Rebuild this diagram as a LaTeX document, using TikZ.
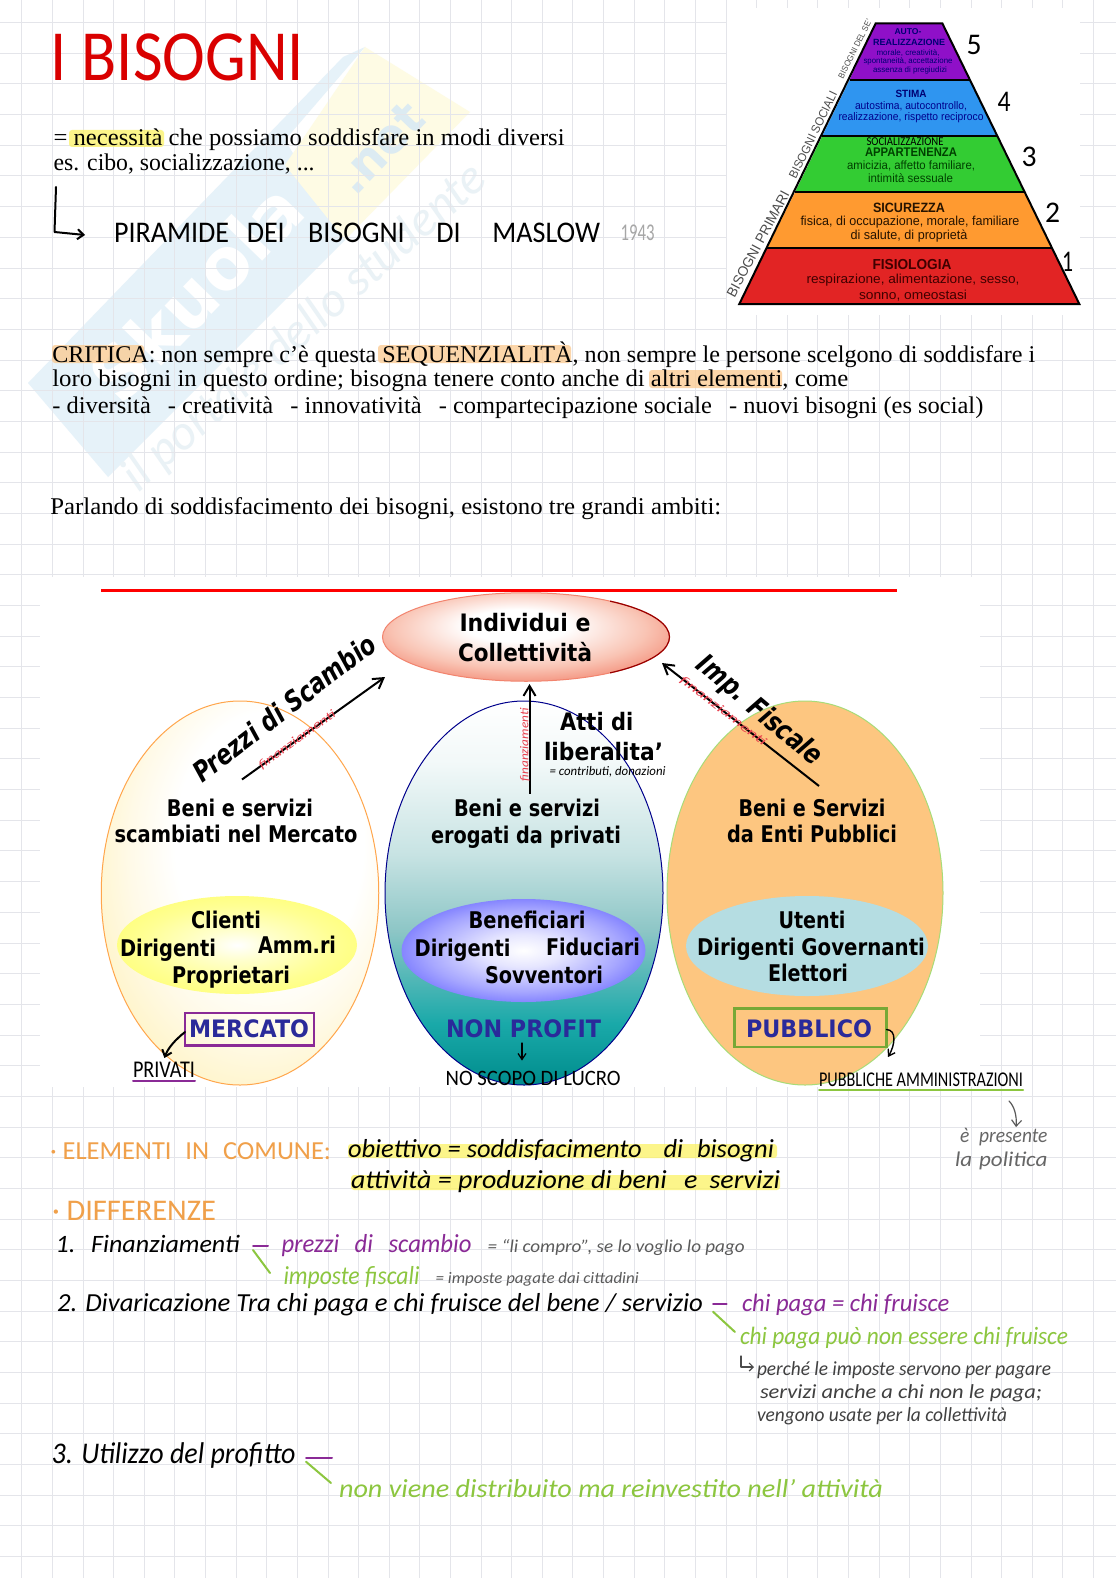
\documentclass[tikz,border=0pt]{standalone}
\usepackage{graphicx}
\usepackage{fontspec}
\usetikzlibrary{shapes.geometric,arrows.meta}
\setmainfont{Liberation Serif}
\newfontfamily\handf{Carlito}
\newfontfamily\arialf{Liberation Sans}
\newfontfamily\tahf{DejaVu Sans}
\newlength\pxu \setlength\pxu{0.5pt}
\newcommand\fx[3]{\resizebox{#1\pxu}{\height}{\fontsize{#2\pxu}{#2\pxu}\selectfont #3}}
\definecolor{gridc}{HTML}{E4E5EA}
\definecolor{wblue}{HTML}{E6F2F9}
\definecolor{wyel}{HTML}{FEFBE4}
\definecolor{wnet}{HTML}{DCEBF2}
\definecolor{wgrey}{HTML}{EAF2F6}
\definecolor{hlyel}{HTML}{FBF263}
\definecolor{hlor}{HTML}{FBC98E}
\definecolor{pred}{HTML}{E22424}
\definecolor{pora}{HTML}{FF9A30}
\definecolor{pgre}{HTML}{33CC33}
\definecolor{pblu}{HTML}{2F95F0}
\definecolor{ppur}{HTML}{8F10C8}
\definecolor{horange}{HTML}{F0A04A}
\definecolor{hpurple}{HTML}{8A2A96}
\definecolor{hgreen}{HTML}{8CC63F}
\definecolor{hgrey}{HTML}{5A5A5A}
\definecolor{lnavy}{HTML}{2A2A9A}
\definecolor{ored}{HTML}{E8404E}
\definecolor{ga}{HTML}{FFFAE8}
\definecolor{gb}{HTML}{FFF3C0}
\definecolor{gc}{HTML}{FFE898}
\definecolor{gd}{HTML}{FFD050}
\definecolor{ge}{HTML}{FFC030}
\definecolor{salma}{HTML}{F9C4B4}
\definecolor{salmb}{HTML}{F2846E}
\definecolor{salmc}{HTML}{EE7058}
\definecolor{rfill}{HTML}{FDC680}
\definecolor{rbord}{HTML}{A8DC78}
\definecolor{rinner}{HTML}{B5DDE2}
\pgfdeclareradialshading{leftshade}{\pgfpoint{8bp}{10bp}}{color(0bp)=(white);color(17bp)=(white);color(24bp)=(ga);color(33bp)=(gb);color(36bp)=(gc);color(40bp)=(gd);color(50bp)=(ge)}
\pgfdeclareverticalshading{midshade}{100bp}{color(0bp)=(teal!90!cyan);color(25bp)=(teal!90!cyan);color(33bp)=(teal!75!cyan!90!white);color(45bp)=(teal!45!white);color(55bp)=(teal!22!white);color(67bp)=(teal!5!white);color(75bp)=(white);color(100bp)=(white)}
\pgfdeclareradialshading{topshade}{\pgfpoint{-2bp}{8bp}}{color(0bp)=(white);color(9bp)=(white);color(22bp)=(salma);color(32bp)=(salmb);color(50bp)=(salmc)}
\pgfdeclareradialshading{yelshade}{\pgfpoint{0bp}{0bp}}{color(0bp)=(white);color(8bp)=(yellow!20!white);color(20bp)=(yellow!42!white);color(30bp)=(yellow!55!white);color(50bp)=(yellow!60!white)}
\pgfdeclareradialshading{vioshade}{\pgfpoint{0bp}{0bp}}{color(0bp)=(white);color(8bp)=(blue!10!white);color(20bp)=(blue!35!white);color(28bp)=(blue!55!white);color(50bp)=(blue!60!white)}
\tikzset{
  tx/.style={inner sep=0,outer sep=0,anchor=center},
  txw/.style={inner sep=0,outer sep=0,anchor=west},
  body/.style={txw,text=black},
  pyr/.style={tx,font=\arialf},
  pyrb/.style={tx,font=\arialf\bfseries},
  side/.style={tx,font=\arialf,text=black!70},
  dg/.style={tx,font=\tahf\bfseries,text=black},
  lab/.style={tx,font=\tahf\bfseries,text=lnavy},
  hand/.style={txw,font=\handf\itshape,text=black},
  handup/.style={txw,font=\handf,text=black},
  flow/.style={draw=black,line width=2pt*0.5,-{Straight Barb[length=5pt,width=6pt]}},
  pen/.style={line width=1pt,line cap=round,line join=round},
  band/.style={draw=black,line width=1pt},
  hl/.style={fill=#1,opacity=.75,rounded corners=1.5pt,draw=none},
  ell/.style={ellipse,inner sep=0,outer sep=0,line width=0.5pt},
}
\begin{document}
\begin{tikzpicture}[x=0.5pt,y=-0.5pt]
\useasboundingbox (0,0) rectangle (1116,1578);
\fill[white] (0,0) rectangle (1116,1578);
% watermark
\fill[wblue] (28,383) -- (343,57) -- (365,47) -- (285,140) -- (345,240) -- (108,477) -- cycle;
\fill[wyel] (365,47) -- (470,112) -- (345,240) -- (285,165) -- cycle;
\node[tx,rotate=46,font=\tahf\bfseries,text=white] (wmA) at (196,292) {\fx{270}{72}{Skuola}};
\node[tx,rotate=46,font=\tahf\bfseries,text=wnet] (wmB) at (380,148) {\fx{105}{48}{.net}};
\node[tx,rotate=41.5,font=\handf\itshape,text=wgrey] (wmC) at (305,328) {\fx{468}{50}{il portale dello studente}};
% grid
\foreach \k in {0,...,35} {\draw[gridc,line width=0.5pt] ({21.8+30.62*\k},0) -- ({21.8+30.62*\k},1578);}
\foreach \k in {0,...,51} {\draw[gridc,line width=0.5pt] (0,{22.6+30.68*\k}) -- (1116,{22.6+30.68*\k});}
% image patches
\fill[white] (727,8) rectangle (1080,315);
\fill[white] (40,577) rectangle (980,1087);
% title
\node[handup,text=red!85!black] (title) at (51,57) {\fx{253}{72}{I BISOGNI}};
% highlights
\fill[hl=hlyel] (69,130) rectangle (164,147);
\fill[hl=hlor] (52,345) rectangle (144,363);
\fill[hl=hlor] (378,345) rectangle (571,363);
\fill[hl=hlor] (649,370) rectangle (782,388);
\fill[hl=hlyel] (348,1144) rectangle (777,1158);
\fill[hl=hlyel] (351,1175) rectangle (780,1190);
% body text
\node[body] (t1) at (53.6,140) {\fx{511}{24}{= necessità che possiamo soddisfare in modi diversi}};
\node[body] (t2) at (53.6,164) {\fx{261}{24}{es. cibo, socializzazione, ...}};
\node[body] (t3) at (52.3,354.5) {\fx{983}{24}{CRITICA: non sempre c’è questa SEQUENZIALITÀ, non sempre le persone scelgono di soddisfare i}};
\node[body] (t4) at (52.3,381) {\fx{796}{24}{loro bisogni in questo ordine; bisogna tenere conto anche di altri elementi, come}};
\node[body] (t5) at (52.3,408) {\fx{931}{24}{- diversità\hspace{0.7em}- creatività\hspace{0.7em}- innovatività\hspace{0.7em}- compartecipazione sociale\hspace{0.7em}- nuovi bisogni (es social)}};
\node[body] (t6) at (50.3,509) {\fx{671}{24}{Parlando di soddisfacimento dei bisogni, esistono tre grandi ambiti:}};
% L arrow and Maslow
\coordinate (la) at (56,187);
\coordinate (lb) at (54.5,232);
\coordinate (lc) at (85,235);
\draw[pen,black,-{Straight Barb[length=3pt,width=5pt]}] (la) -- (lb) -- (lc);
\node[handup] (pm) at (114,233) {\fx{486}{30}{PIRAMIDE\hspace{0.4em} DEI\hspace{0.6em} BISOGNI\hspace{0.9em} DI\hspace{0.9em} MASLOW}};
\node[handup,text=black!35] (yr) at (620.5,233) {\fx{34}{24}{1943}};
% pyramid
\fill[pred] (767.3,248) -- (1051.3,248) -- (1079.3,304) -- (739.3,304) -- cycle;
\fill[pora] (795.0,192.3) -- (1024,192.3) -- (1051.3,248) -- (767.3,248) -- cycle;
\fill[pgre] (822.3,136) -- (996.5,136) -- (1024,192.3) -- (795.0,192.3) -- cycle;
\fill[pblu] (849.5,80) -- (969.5,80) -- (996.5,136) -- (822.3,136) -- cycle;
\fill[ppur] (875.7,23.3) -- (942.3,23.3) -- (969.5,80) -- (849.5,80) -- cycle;
\draw[band] (875.7,23.3) -- (942.3,23.3) -- (1079.3,304) -- (739.3,304) -- cycle;
\draw[band] (849.5,80) -- (969.5,80);
\draw[band] (822.3,136) -- (996.5,136);
\draw[band] (795,192.3) -- (1024,192.3);
\draw[band] (767.3,248) -- (1051.3,248);
\node[pyrb,text=black!75!red] (p1a) at (912,264.5) {\fx{79}{14.5}{FISIOLOGIA}};
\node[pyr,text=black!75!red] (p1b) at (913,280) {\fx{213}{13}{respirazione, alimentazione, sesso,}};
\node[pyr,text=black!75!red] (p1c) at (913,295.5) {\fx{108}{13}{sonno, omeostasi}};
\node[pyrb,text=black!85!orange] (p2a) at (909,207.7) {\fx{72}{13.5}{SICUREZZA}};
\node[pyr,text=black!85!orange] (p2b) at (910,222) {\fx{219}{13}{fisica, di occupazione, morale, familiare}};
\node[pyr,text=black!85!orange] (p2c) at (909,236.5) {\fx{117}{13}{di salute, di proprietà}};
\node[handup,tx] (p3z) at (905,141.7) {\fx{77}{12}{SOCIALIZZAZIONE}};
\node[pyrb,text=black!75!green] (p3a) at (911,152.2) {\fx{92}{12.5}{APPARTENENZA}};
\node[pyr,text=black!75!green] (p3b) at (911,165.5) {\fx{128}{12}{amicizia, affetto familiare,}};
\node[pyr,text=black!75!green] (p3c) at (910.5,178) {\fx{85}{12}{intimità sessuale}};
\node[pyrb,text=blue!45!black] (p4a) at (911,94) {\fx{31}{10.5}{STIMA}};
\node[pyr,text=blue!55!black] (p4b) at (911,106) {\fx{112}{11}{autostima, autocontrollo,}};
\node[pyr,text=blue!55!black] (p4c) at (911,117.5) {\fx{145}{11}{realizzazione, rispetto reciproco}};
\node[pyrb,text=blue!45!black] (p5a) at (908,32) {\fx{27}{8.5}{AUTO-}};
\node[pyrb,text=blue!45!black] (p5b) at (909,42.3) {\fx{72}{9}{REALIZZAZIONE}};
\node[pyr,text=blue!45!black] (p5c) at (908,52.7) {\fx{63}{8}{morale, creatività,}};
\node[pyr,text=blue!45!black] (p5d) at (908,61.7) {\fx{89}{8}{spontaneità, accettazione}};
\node[pyr,text=blue!45!black] (p5e) at (910,70.7) {\fx{74}{8}{assenza di pregiudizi}};
\node[side,rotate=62] (s1) at (758,244) {\fx{118}{14}{BISOGNI PRIMARI}};
\node[side,rotate=64] (s2) at (813,135) {\fx{95}{12}{BISOGNI SOCIALI}};
\node[side,rotate=63.5] (s3) at (855,49) {\fx{65}{8.5}{BISOGNI DEL SE’}};
\node[handup,tx] (n5) at (974,45) {\fx{15}{30}{5}};
\node[handup,tx] (n4) at (1004,101.7) {\fx{13}{30}{4}};
\node[handup,tx] (n3) at (1029,156.7) {\fx{15}{30}{3}};
\node[handup,tx] (n2) at (1052.7,213) {\fx{15}{30}{2}};
\node[handup,tx] (n1) at (1067.7,261.7) {\fx{11}{30}{1}};
% diagram
\coordinate (rla) at (101,590.5);
\coordinate (rlb) at (897,590.5);
\draw[red,line width=1.6pt] (rla) -- (rlb);
\node[ell,draw=orange!70!white,shading=leftshade,minimum width=277.5\pxu,minimum height=384\pxu] (eL) at (240,893) {};
\node[ell,draw=blue!55!black,shading=midshade,minimum width=278\pxu,minimum height=384\pxu] (eM) at (524,893) {};
\node[ell,draw=rbord,fill=rfill,minimum width=276\pxu,minimum height=384\pxu] (eR) at (805,893) {};
\node[ell,draw=salmb,shading=topshade,minimum width=287\pxu,minimum height=88.5\pxu] (eT) at (526,637) {};
\begin{scope}
\clip (610,590) rectangle (680,690);
\draw[red!60!black,line width=0.6pt] (eT.center) ellipse [x radius=143.5,y radius=44.25];
\end{scope}
\node[ell,shading=yelshade,minimum width=240\pxu,minimum height=98\pxu] (iL) at (237,945) {};
\node[ell,shading=vioshade,minimum width=244\pxu,minimum height=103\pxu] (iM) at (523.5,950.5) {};
\node[ell,fill=rinner,minimum width=242\pxu,minimum height=100\pxu] (iR) at (807,946) {};
% arrows
\coordinate (a1a) at (242,779.5);
\coordinate (a1b) at (385,677);
\coordinate (a2a) at (529.5,793.6);
\coordinate (a2b) at (529.5,684);
\coordinate (a3a) at (819,786);
\coordinate (a3b) at (662,663);
\draw[flow] (a1a) -- (a1b);
\draw[flow] (a2a) -- (a2b);
\draw[flow] (a3a) -- (a3b);
% diagram text
\node[dg] (d1) at (525,623) {\fx{131}{24}{Individui e}};
\node[dg] (d2) at (525,652) {\fx{134}{24}{Collettività}};
\node[dg,rotate=37.5] (d3) at (284,708) {\fx{222}{28}{\itshape Prezzi di Scambio}};
\node[dg,rotate=-40] (d4) at (759,711) {\fx{155}{28}{\itshape Imp. Fiscale}};
\node[dg] (d5) at (596.7,722) {\fx{73}{24}{Atti di}};
\node[dg] (d6) at (603.5,752) {\fx{119}{24}{liberalita’}};
\node[dg] (b1) at (240,808) {\fx{146}{23}{Beni e servizi}};
\node[dg] (b2) at (236,834) {\fx{243}{23}{scambiati nel Mercato}};
\node[dg] (b3) at (527,808) {\fx{146}{23}{Beni e servizi}};
\node[dg] (b4) at (526,837) {\fx{190}{23}{erogati da privati}};
\node[dg] (b5) at (812,808) {\fx{147}{23}{Beni e Servizi}};
\node[dg] (b6) at (812,834) {\fx{170}{23}{da Enti Pubblici}};
\node[dg] (c1) at (226,920) {\fx{70}{23}{Clienti}};
\node[dg] (c2) at (168,950) {\fx{96}{23}{Dirigenti}};
\node[dg] (c3) at (297,945) {\fx{78}{23}{Amm.ri}};
\node[dg] (c4) at (231,977) {\fx{118}{23}{Proprietari}};
\node[dg] (c5) at (527,920) {\fx{117}{23}{Beneficiari}};
\node[dg] (c6) at (462.6,950) {\fx{96}{23}{Dirigenti}};
\node[dg] (c7) at (593,947) {\fx{94}{23}{Fiduciari}};
\node[dg] (c8) at (544,975) {\fx{118}{23}{Sovventori}};
\node[dg] (c9) at (812,920) {\fx{67}{23}{Utenti}};
\node[dg] (c10) at (811,949) {\fx{228}{23}{Dirigenti Governanti}};
\node[dg] (c11) at (808,973) {\fx{80}{23}{Elettori}};
\node[lab] (m1) at (249,1029) {\fx{120}{24}{MERCATO}};
\node[lab] (m2) at (523.5,1029) {\fx{155}{24}{NON PROFIT}};
\node[lab] (m3) at (809,1029) {\fx{126}{24}{PUBBLICO}};
% boxes
\draw[hpurple,line width=1.2pt] (185,1013) rectangle (314,1045.5);
\draw[hgreen!85!black,line width=1.1pt] (734.5,1008.5) rectangle (886.5,1047);
% red notes
\node[tx,font=\handf\itshape,text=ored,rotate=36] (f1) at (297,740) {\fx{92}{12}{finanziamenti}};
\node[tx,font=\handf\itshape,text=ored,rotate=90] (f2) at (525,745) {\fx{73}{12}{finanziamenti}};
\node[tx,font=\handf\itshape,text=ored,rotate=-38] (f3) at (723,711) {\fx{106}{12}{finanziamenti}};
\node[hand] (f4) at (549.6,772) {\fx{116}{13}{= contributi, donazioni}};
% notes around the ellipses
\node[handup] (h1) at (133,1070) {\fx{62}{24}{PRIVATI}};
\coordinate (h1a) at (133,1081);
\coordinate (h1b) at (195,1081);
\draw[hpurple,pen] (h1a) -- (h1b);
\coordinate (h2a) at (185,1032);
\coordinate (h2b) at (164.4,1058);
\draw[pen,black,-{Straight Barb[length=3pt,width=5pt]}] (h2a) .. controls (175,1040) and (168,1048) .. (h2b);
\node[handup] (h3) at (445.7,1078) {\fx{175}{22}{NO SCOPO DI LUCRO}};
\coordinate (h4a) at (522,1043);
\coordinate (h4b) at (522,1060.5);
\draw[pen,black,line width=0.6pt,-{Straight Barb[length=3pt,width=4pt]}] (h4a) -- (h4b);
\coordinate (h5a) at (886.5,1029.5);
\coordinate (h5b) at (888,1057);
\draw[pen,black,line width=0.7pt,-{Straight Barb[length=3pt,width=4pt]}] (h5a) .. controls (897,1030) and (895,1045) .. (h5b);
\node[handup] (h6) at (819,1080) {\fx{204}{21}{PUBBLICHE AMMINISTRAZIONI}};
\coordinate (h6a) at (819,1090);
\coordinate (h6b) at (1023,1090);
\draw[hgreen,pen] (h6a) -- (h6b);
\coordinate (h7a) at (1009,1101);
\coordinate (h7b) at (1016,1127);
\draw[pen,line width=0.6pt,black!65,-{Straight Barb[length=3pt,width=5pt]}] (h7a) .. controls (1014,1106) and (1017,1115) .. (h7b);
\node[hand,text=black!60] (h8) at (960,1137) {\fx{87.5}{21}{è\hspace{.5em}presente}};
\node[hand,text=black!60] (h9) at (955,1161) {\fx{92.5}{21}{la\hspace{.3em}politica}};
% lower notes
\node[handup,text=horange] (e1) at (50,1151) {\fx{281}{26}{· ELEMENTI\hspace{.3em} IN\hspace{.3em} COMUNE:}};
\node[hand] (e2) at (348,1151) {\fx{426}{26}{obiettivo = soddisfacimento\hspace{.6em} di\hspace{.3em} bisogni}};
\node[hand] (e3) at (351,1182) {\fx{429}{26}{attività = produzione di beni\hspace{.4em} e\hspace{.2em} servizi}};
\node[handup,text=horange] (e4) at (52,1211) {\fx{164}{30}{· DIFFERENZE}};
\node[hand] (l1) at (55.7,1244) {\fx{184}{25}{1.\hspace{.3em} Finanziamenti}};
\coordinate (b1a) at (253,1245.7);
\coordinate (b1b) at (268,1245.7);
\coordinate (b1c) at (253,1250);
\coordinate (b1d) at (270,1273);
\draw[hpurple,pen] (b1a) -- (b1b);
\draw[hgreen,pen] (b1c) -- (b1d);
\node[hand,text=hpurple] (l2) at (281.5,1245.7) {\fx{190}{26}{prezzi\hspace{.4em} di\hspace{.4em} scambio}};
\node[hand,text=hgrey] (l3) at (487.7,1248) {\fx{257}{18}{= “li compro”, se lo voglio lo pago}};
\node[hand,text=hgreen] (l4) at (283.5,1278) {\fx{136}{26}{imposte fiscali}};
\node[hand,text=hgrey] (l5) at (435.7,1279) {\fx{203}{16}{= imposte pagate dai cittadini}};
\node[hand] (l6) at (57,1305) {\fx{646}{26}{2. Divaricazione Tra chi paga e chi fruisce del bene / servizio}};
\coordinate (b2a) at (713,1304);
\coordinate (b2b) at (726.5,1304);
\coordinate (b2c) at (713,1311.7);
\coordinate (b2d) at (735,1332);
\draw[hpurple,pen] (b2a) -- (b2b);
\draw[hgreen,pen] (b2c) -- (b2d);
\node[hand,text=hpurple] (l7) at (742,1305) {\fx{207.5}{25}{chi paga = chi fruisce}};
\node[hand,text=hgreen] (l8) at (740,1338) {\fx{328}{25}{chi paga può non essere chi fruisce}};
\coordinate (b3a) at (741,1356);
\coordinate (b3b) at (741,1367);
\coordinate (b3c) at (754,1367);
\draw[pen,line width=0.6pt,black!70,-{Straight Barb[length=2pt,width=4pt]}] (b3a) -- (b3b) -- (b3c);
\node[hand,text=black!75] (l9) at (757,1370) {\fx{294}{20}{perché le imposte servono per pagare}};
\node[hand,text=black!75] (l10) at (760,1393) {\fx{282}{20}{servizi anche a chi non le paga;}};
\node[hand,text=black!75] (l11) at (757,1416.7) {\fx{250}{20}{vengono usate per la collettività}};
\node[hand] (l12) at (51.6,1455) {\fx{244}{30}{3. Utilizzo del profitto}};
\coordinate (b4a) at (306,1458);
\coordinate (b4b) at (332,1458);
\coordinate (b4c) at (306,1461.7);
\coordinate (b4d) at (331,1483);
\draw[hpurple,pen] (b4a) -- (b4b);
\draw[hgreen,pen] (b4c) -- (b4d);
\node[hand,text=hgreen] (l13) at (339,1489) {\fx{544}{26}{non viene distribuito ma reinvestito nell’ attività}};
\end{tikzpicture}
\end{document}
